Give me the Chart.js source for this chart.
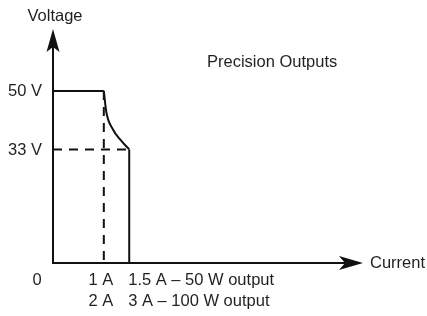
<!DOCTYPE html>
<html>
<head>
<meta charset="utf-8">
<script src="https://cdn.jsdelivr.net/npm/chart.js@4"></script>
<style>
  body { margin: 0; background: #fff; }
  #wrap { width: 427px; height: 316px; }
</style>
</head>
<body>
<div id="wrap"><canvas id="ivChart" width="427" height="316"></canvas></div>
<script>
// Datos del diagrama (corriente en A, tensión en V)
const maxCurrent = 6.1;
const maxVoltage = 68;
const flatCurrent = [0, 1];
const flatVoltage = [50, 50];
const limitCurrent = [1, 1.05, 1.18, 1.32, 1.5];
const limitVoltage = [50, 43.8, 38.8, 35.9, 33];
const dropCurrent = [1.5, 1.5];
const dropVoltage = [33, 0];
const guideLowCurrent = [0, 1.5];
const guideLowVoltage = [33, 33];
const guideKneeCurrent = [1, 1];
const guideKneeVoltage = [50, 0];

const yTicks = [50, 33];
const yTickLabels = ['50 V', '33 V'];
const xTicks = [1, 1.5];
const xTickLabelsTop = ['1 A', '1.5 A – 50 W output'];
const xTickLabelsBottom = ['2 A', '3 A – 100 W output'];
const xTickAlign = ['center', 'left'];

const FONT = "16.5px 'Liberation Sans', Arial, sans-serif";
const TEXT = '#231f20';
const INK = '#111';

function pts(xs, ys) {
    return xs.map((x, i) => ({ x: x, y: ys[i] }));
}

function linea(xs, ys, extra) {
    return Object.assign({
        data: pts(xs, ys),
        showLine: true,
        borderColor: INK,
        borderWidth: 2,
        pointRadius: 0,
        fill: false,
        clip: false
    }, extra || {});
}

// Ejes con flecha y textos
const ejesPlugin = {
    id: 'ejes',
    afterDatasetsDraw(chart) {
        const ctx = chart.ctx;
        const xs = chart.scales.x, ys = chart.scales.y;
        const area = chart.chartArea;
        const x0 = xs.getPixelForValue(0);
        const y0 = ys.getPixelForValue(0);

        ctx.save();
        ctx.strokeStyle = INK;
        ctx.fillStyle = INK;
        ctx.lineWidth = 2;
        ctx.lineCap = 'butt';

        // eje Y
        ctx.beginPath();
        ctx.moveTo(x0, y0 + 1);
        ctx.lineTo(x0, area.top + 12);
        ctx.stroke();
        ctx.beginPath();
        ctx.moveTo(x0, area.top);
        ctx.lineTo(x0 + 6.5, area.top + 23);
        ctx.lineTo(x0, area.top + 18);
        ctx.lineTo(x0 - 6.5, area.top + 23);
        ctx.closePath();
        ctx.fill();

        // eje X
        ctx.beginPath();
        ctx.moveTo(x0 - 1, y0);
        ctx.lineTo(area.right - 12, y0);
        ctx.stroke();
        ctx.beginPath();
        ctx.moveTo(area.right, y0);
        ctx.lineTo(area.right - 24, y0 - 7);
        ctx.lineTo(area.right - 18, y0);
        ctx.lineTo(area.right - 24, y0 + 7);
        ctx.closePath();
        ctx.fill();

        // textos
        ctx.fillStyle = TEXT;
        ctx.font = FONT;
        ctx.textBaseline = 'middle';

        ctx.textAlign = 'center';
        ctx.fillText('Voltage', x0 + 2, 16);

        ctx.textAlign = 'right';
        yTicks.forEach((v, i) => {
            ctx.fillText(yTickLabels[i], x0 - 11, ys.getPixelForValue(v) + 1);
        });

        ctx.textAlign = 'center';
        ctx.fillText('0', x0 - 16, y0 + 17);

        xTicks.forEach((v, i) => {
            const px = xs.getPixelForValue(v);
            ctx.textAlign = xTickAlign[i];
            const off = xTickAlign[i] === 'center' ? -3 : -1;
            ctx.fillText(xTickLabelsTop[i], px + off, y0 + 17);
            ctx.fillText(xTickLabelsBottom[i], px + off, y0 + 38.5);
        });

        ctx.textAlign = 'left';
        ctx.fillText('Current', area.right + 7, y0);
        ctx.fillText('Precision Outputs', 207, 62);
        ctx.restore();
    }
};

new Chart(document.getElementById('ivChart'), {
    type: 'scatter',
    data: {
        datasets: [
            linea(flatCurrent, flatVoltage),
            linea(limitCurrent, limitVoltage, { cubicInterpolationMode: 'monotone' }),
            linea(dropCurrent, dropVoltage),
            linea(guideLowCurrent, guideLowVoltage, { borderDash: [9, 7] }),
            linea(guideKneeCurrent, guideKneeVoltage, { borderDash: [9, 7] })
        ]
    },
    options: {
        responsive: false,
        animation: false,
        devicePixelRatio: 1,
        layout: { padding: { left: 53, top: 29, right: 64, bottom: 53 } },
        plugins: {
            legend: { display: false },
            tooltip: { enabled: false }
        },
        scales: {
            x: { type: 'linear', min: 0, max: maxCurrent, display: false },
            y: { type: 'linear', min: 0, max: maxVoltage, display: false }
        }
    },
    plugins: [ejesPlugin]
});
</script>
</body>
</html>
